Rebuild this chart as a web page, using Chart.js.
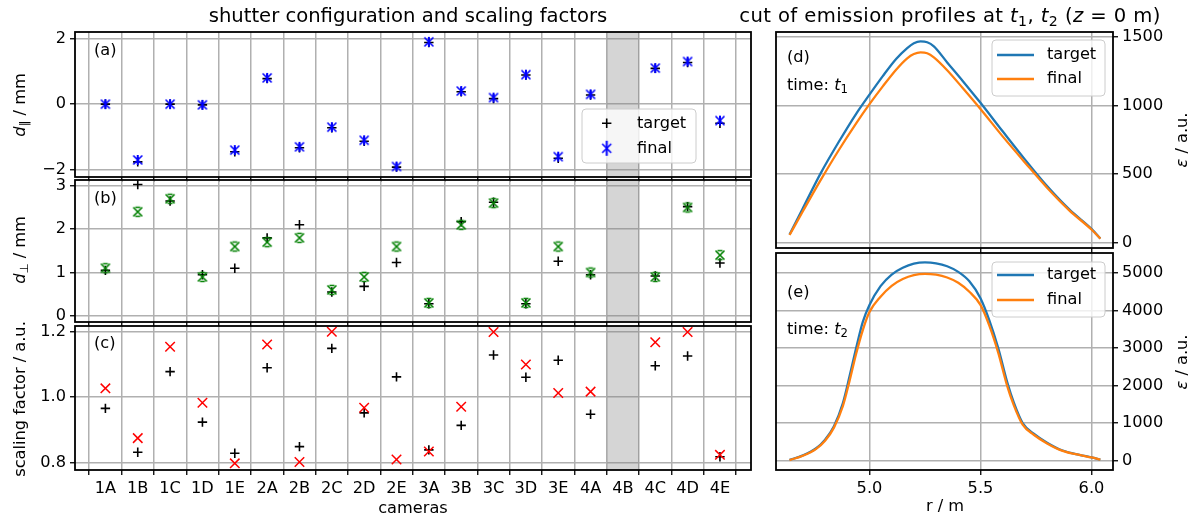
<!DOCTYPE html>
<html>
<head>
<meta charset="utf-8">
<script src="https://cdn.jsdelivr.net/npm/chart.js@4.4.1/dist/chart.umd.min.js"></script>
<style>
  html, body { margin: 0; padding: 0; background: #fff; }
  #wrap { position: relative; width: 1201px; height: 521px; overflow: hidden;
          font-family: 'DejaVu Sans', sans-serif; color: #000; }
  canvas { position: absolute; }
  .t { position: absolute; white-space: nowrap; line-height: 1; font-size: 16.2px; z-index: 5; }
  .c { transform: translate(-50%, -50%); }
  .l { transform: translate(0, -50%); }
  .v { transform: translate(-50%, -50%) rotate(-90deg); }
  .big { font-size: 19.6px; }
  .wide { letter-spacing: 0.4px; }
  sub { font-size: 0.72em; vertical-align: -0.3em; line-height: 0; }
</style>
</head>
<body>
<div id="wrap">
  <canvas id="ca" width="770" height="185" style="left:0;top:12px"></canvas>
  <canvas id="cb" width="770" height="182" style="left:0;top:160px"></canvas>
  <canvas id="cc" width="770" height="215" style="left:0;top:306px"></canvas>
  <canvas id="cd" width="441" height="256" style="left:760px;top:12px"></canvas>
  <canvas id="ce" width="441" height="288" style="left:760px;top:233px"></canvas>

  <div class="t c big" style="left:408px;top:16px">shutter configuration and scaling factors</div>
  <div class="t c big wide" style="left:950px;top:16px">cut of emission profiles at <i>t</i><sub>1</sub>, <i>t</i><sub>2</sub> (<i>z</i> = 0 m)</div>

  <div class="t v" style="left:20px;top:105px"><i>d</i><sub>∥</sub> / mm</div>
  <div class="t v" style="left:20px;top:250px"><i>d</i><sub>⊥</sub> / mm</div>
  <div class="t v" style="left:20px;top:399px">scaling factor / a.u.</div>
  <div class="t v" style="left:1182px;top:140px"><i>ε</i> / a.u.</div>
  <div class="t v" style="left:1182px;top:362px"><i>ε</i> / a.u.</div>
  <div class="t c" style="left:413px;top:508px">cameras</div>
  <div class="t c" style="left:945px;top:506px">r / m</div>

  <div class="t l" style="left:94px;top:50px">(a)</div>
  <div class="t l" style="left:94px;top:198px">(b)</div>
  <div class="t l" style="left:94px;top:343px">(c)</div>
  <div class="t l" style="left:787px;top:57px">(d)</div>
  <div class="t l" style="left:787px;top:85px">time: <i>t</i><sub>1</sub></div>
  <div class="t l" style="left:787px;top:292px">(e)</div>
  <div class="t l" style="left:787px;top:329px">time: <i>t</i><sub>2</sub></div>
</div>
<script>
// cameras and shutter values (4B has no data)
const cameras = ['1A', '1B', '1C', '1D', '1E', '2A', '2B', '2C', '2D', '2E',
                 '3A', '3B', '3C', '3D', '3E', '4A', '4B', '4C', '4D', '4E'];
const skippedCamera = '4B';

const dParTarget = [0.0, -1.76, 0.0, -0.02, -1.45, 0.78, -1.33, -0.72, -1.13, -1.92,
                    1.88, 0.38, 0.17, 0.89, -1.65, 0.28, null, 1.09, 1.27, -0.58];
const dParFinal = [0.0, -1.70, 0.0, -0.02, -1.40, 0.80, -1.30, -0.70, -1.10, -1.90,
                   1.90, 0.40, 0.20, 0.90, -1.60, 0.30, null, 1.10, 1.30, -0.50];

const dPerpTarget = [1.05, 3.03, 2.65, 0.95, 1.10, 1.80, 2.10, 0.55, 0.68, 1.23,
                     0.28, 2.17, 2.62, 0.28, 1.26, 0.95, null, 0.92, 2.52, 1.22];
const dPerpFinal = [1.10, 2.40, 2.70, 0.90, 1.60, 1.70, 1.80, 0.60, 0.90, 1.60,
                    0.30, 2.10, 2.60, 0.30, 1.60, 1.00, null, 0.90, 2.50, 1.40];

const scaleTarget = [0.966, 0.832, 1.078, 0.924, 0.829, 1.090, 0.849, 1.149, 0.952, 1.062,
                     0.839, 0.914, 1.129, 1.061, 1.113, 0.948, null, 1.096, 1.126, 0.818];
const scaleFinal = [1.027, 0.875, 1.154, 0.983, 0.798, 1.161, 0.802, 1.200, 0.968, 0.810,
                    0.834, 0.971, 1.199, 1.100, 1.013, 1.017, null, 1.168, 1.199, 0.824];

// emission profile cuts
const rT1 = [4.64, 4.70, 4.78, 4.86, 4.94, 5.00, 5.06, 5.12, 5.17, 5.20, 5.23,
             5.26, 5.29, 5.35, 5.42, 5.50, 5.60, 5.70, 5.80, 5.90, 6.00, 6.04];
const targetT1 = [58, 250, 505, 730, 940, 1080, 1215, 1340, 1420, 1455, 1468,
                  1462, 1432, 1315, 1180, 1020, 812, 607, 412, 242, 100, 30];
const finalT1 = [55, 228, 455, 670, 870, 1010, 1140, 1262, 1345, 1376, 1388,
                 1382, 1352, 1258, 1128, 975, 775, 585, 400, 235, 95, 28];

const rT2 = [4.64, 4.70, 4.76, 4.80, 4.84, 4.88, 4.91, 4.94, 4.97, 5.00, 5.05,
             5.10, 5.15, 5.20, 5.25, 5.30, 5.35, 5.40, 5.45, 5.50, 5.54, 5.58,
             5.62, 5.65, 5.69, 5.74, 5.80, 5.87, 5.95, 6.00, 6.04];
const targetT2 = [20, 140, 330, 560, 920, 1530, 2240, 3000, 3700, 4150, 4650,
                  4960, 5140, 5250, 5285, 5260, 5180, 5030, 4780, 4330, 3740, 3000,
                  2100, 1550, 1000, 720, 480, 270, 150, 90, 30];
const finalT2 = [15, 130, 315, 530, 880, 1450, 2120, 2850, 3480, 3960, 4370,
                 4660, 4840, 4945, 4978, 4955, 4880, 4740, 4500, 4150, 3600, 2880,
                 2000, 1480, 960, 690, 460, 260, 145, 85, 28];

// tick values
const yTicksA = [-2, 0, 2];
const yTicksB = [0, 1, 2, 3];
const yTicksC = [0.8, 1.0, 1.2];
const yTicksD = [0, 500, 1000, 1500];
const yTicksE = [0, 1000, 2000, 3000, 4000, 5000];
const rTicks = [5.0, 5.5, 6.0];

Chart.defaults.font.family = "'DejaVu Sans', sans-serif";
Chart.defaults.font.size = 16.2;
Chart.defaults.color = '#000';

const GRID = '#b0b0b0';
const NONE = 'rgba(0,0,0,0)';

const idx = cameras.map((c, i) => i);
// boundaries between cameras carry grid lines, centres carry names
const catTicks = idx.flatMap(i => [i - 0.5, i]).concat(idx.length - 0.5);
const pts = (xs, ys) => ys.map((y, i) => ({ x: xs[i], y })).filter(p => p.y !== null);
const fmtMinus = v => (v < 0 ? '\u2212' + (-v) : String(v));

// marker images
function marker(size, draw) {
    const c = document.createElement('canvas');
    c.width = size; c.height = size;
    const g = c.getContext('2d');
    draw(g, size / 2);
    return c;
}
function drawX(g, m, h, color, lw) {
    g.strokeStyle = color; g.lineWidth = lw;
    g.beginPath();
    g.moveTo(m - h, m - h); g.lineTo(m + h, m + h);
    g.moveTo(m - h, m + h); g.lineTo(m + h, m - h);
    g.stroke();
}
const blueMark = (bar) => marker(bar * 2 + 4, (g, m) => {
    drawX(g, m, 4.5, '#0000ff', 1.6);
    g.lineWidth = 2; g.beginPath(); g.moveTo(m, m - bar); g.lineTo(m, m + bar); g.stroke();
});
const greenMark = marker(14, (g, m) => {
    drawX(g, m, 4.5, '#008000', 1.6);
    g.lineWidth = 1.4; g.beginPath();
    g.moveTo(m - 2.5, m - 4.5); g.lineTo(m + 2.5, m - 4.5);
    g.moveTo(m - 2.5, m + 4.5); g.lineTo(m + 2.5, m + 4.5);
    g.stroke();
});
const blueFinal = blueMark(5);
const blueLegend = blueMark(7.5);

// plugins
const framePlugin = {
    id: 'frame',
    afterDatasetsDraw(chart) {
        const { ctx, chartArea: a } = chart;
        ctx.save();
        ctx.strokeStyle = '#000'; ctx.lineWidth = 1.8;
        ctx.strokeRect(a.left, a.top, a.right - a.left, a.bottom - a.top);
        ctx.restore();
    }
};
const bandPlugin = {
    id: 'band',
    beforeDatasetsDraw(chart, args, opts) {
        if (opts.at == null) return;
        const { ctx, chartArea: a } = chart;
        const x = chart.scales.x;
        const x0 = x.getPixelForValue(opts.at - 0.5), x1 = x.getPixelForValue(opts.at + 0.5);
        ctx.save();
        ctx.fillStyle = 'rgba(128,128,128,0.33)';
        ctx.fillRect(x0, a.top, x1 - x0, a.bottom - a.top);
        ctx.restore();
    }
};
const boxLegend = {
    id: 'boxLegend',
    afterDraw(chart, args, o) {
        if (!o.items) return;
        const { ctx, chartArea: a } = chart;
        const x = a.left + o.x, y = a.top + o.y;
        ctx.save();
        ctx.beginPath();
        ctx.roundRect(x, y, o.w, o.h, 4);
        ctx.fillStyle = 'rgba(255,255,255,0.8)'; ctx.fill();
        ctx.strokeStyle = '#cccccc'; ctx.lineWidth = 1; ctx.stroke();
        o.items.forEach((it, k) => {
            const cy = y + o.rows[k];
            if (it.line) {
                ctx.strokeStyle = it.line; ctx.lineWidth = 2.3;
                ctx.beginPath(); ctx.moveTo(x + o.sx[0], cy); ctx.lineTo(x + o.sx[1], cy); ctx.stroke();
            } else if (it.img) {
                ctx.drawImage(it.img, x + o.mx - it.img.width / 2, cy - it.img.height / 2);
            } else {
                ctx.strokeStyle = '#000'; ctx.lineWidth = 1.6;
                ctx.beginPath();
                ctx.moveTo(x + o.mx - 4.7, cy); ctx.lineTo(x + o.mx + 4.7, cy);
                ctx.moveTo(x + o.mx, cy - 4.7); ctx.lineTo(x + o.mx, cy + 4.7);
                ctx.stroke();
            }
            ctx.fillStyle = '#000';
            ctx.font = "16.2px 'DejaVu Sans', sans-serif";
            ctx.textBaseline = 'middle';
            ctx.fillText(it.text, x + o.tx, cy);
        });
        ctx.restore();
    }
};

// scales
const isEdge = c => c.tick && !Number.isInteger(c.tick.value);
function xCat(labels) {
    return {
        type: 'linear', min: -0.94, max: 19.96,
        afterBuildTicks: s => { s.ticks = catTicks.map(v => ({ value: v })); },
        afterFit: s => { s.height = labels ? 51 : 20; },
        ticks: { display: labels, autoSkip: false, maxRotation: 0, padding: 4,
                 callback: v => (Number.isInteger(v) ? cameras[v] : '') },
        grid: { color: c => (isEdge(c) ? GRID : NONE), tickColor: c => (isEdge(c) ? '#000' : NONE),
                lineWidth: 1.5, tickLength: 5, tickWidth: 1.3 },
        border: { display: false }
    };
}
function xR(labels) {
    return {
        type: 'linear', min: 4.579, max: 6.097,
        afterBuildTicks: s => { s.ticks = rTicks.map(v => ({ value: v })); },
        afterFit: s => { s.height = labels ? 51 : 20; },
        ticks: { display: labels, maxRotation: 0, padding: 4, callback: v => v.toFixed(1) },
        grid: { color: GRID, tickColor: '#000', lineWidth: 1.5, tickLength: 5, tickWidth: 1.3 },
        border: { display: false }
    };
}
function yLin(min, max, ticks, fmt, position, width) {
    return {
        type: 'linear', position, min, max,
        afterBuildTicks: s => { s.ticks = ticks.map(v => ({ value: v })); },
        afterFit: s => { s.width = width; },
        ticks: { padding: 4, callback: fmt },
        grid: { color: GRID, tickColor: '#000', lineWidth: 1.5, tickLength: 5, tickWidth: 1.3 },
        border: { display: false }
    };
}

const base = {
    responsive: false, animation: false, events: [],
};
const leftPad = { top: 20, right: 19, left: 0, bottom: 0 };
const rightPad = { top: 20, right: 0, left: 16, bottom: 0 };
const bandAt = cameras.indexOf(skippedCamera);

const target = (data) => ({ label: 'target', data, pointStyle: 'cross', pointRadius: 4.7,
                            borderColor: '#000', borderWidth: 1.6, order: 1 });

new Chart(document.getElementById('ca'), {
    type: 'scatter',
    data: { datasets: [
        target(pts(idx, dParTarget)),
        { label: 'final', data: pts(idx, dParFinal), pointStyle: blueFinal, pointRadius: 5, order: 0 }
    ] },
    options: { ...base, layout: { padding: leftPad },
        scales: { x: xCat(false), y: yLin(-2.22, 2.2, yTicksA, fmtMinus, 'left', 75) },
        plugins: { legend: { display: false }, tooltip: { enabled: false }, band: { at: bandAt },
            boxLegend: { x: 507, y: 77, w: 114, h: 54, mx: 24.7, tx: 55, rows: [14.3, 39.3],
                items: [{ text: 'target' }, { text: 'final', img: blueLegend }] } } },
    plugins: [bandPlugin, framePlugin, boxLegend]
});

new Chart(document.getElementById('cb'), {
    type: 'scatter',
    data: { datasets: [
        target(pts(idx, dPerpTarget)),
        { label: 'final', data: pts(idx, dPerpFinal), pointStyle: greenMark, pointRadius: 5, order: 0 }
    ] },
    options: { ...base, layout: { padding: leftPad },
        scales: { x: xCat(false), y: yLin(-0.14, 3.133, yTicksB, String, 'left', 75) },
        plugins: { legend: { display: false }, tooltip: { enabled: false }, band: { at: bandAt } } },
    plugins: [bandPlugin, framePlugin]
});

new Chart(document.getElementById('cc'), {
    type: 'scatter',
    data: { datasets: [
        target(pts(idx, scaleTarget)),
        { label: 'final', data: pts(idx, scaleFinal), pointStyle: 'crossRot', pointRadius: 6.7,
          borderColor: '#ff0000', borderWidth: 1.5, order: 0 }
    ] },
    options: { ...base, layout: { padding: leftPad },
        scales: { x: xCat(true), y: yLin(0.7777, 1.2174, yTicksC, v => v.toFixed(1), 'left', 75) },
        plugins: { legend: { display: false }, tooltip: { enabled: false }, band: { at: bandAt } } },
    plugins: [bandPlugin, framePlugin]
});

const lineSet = (label, xs, ys, color) => ({
    label, data: pts(xs, ys), showLine: true, pointRadius: 0, borderColor: color,
    borderWidth: 2.3, cubicInterpolationMode: 'monotone'
});

new Chart(document.getElementById('cd'), {
    type: 'scatter',
    data: { datasets: [
        { ...lineSet('target', rT1, targetT1, '#1f77b4'), order: 1 },
        { ...lineSet('final', rT1, finalT1, '#ff7f0e'), order: 0 }
    ] },
    options: { ...base, layout: { padding: rightPad },
        scales: { x: xR(false), y: yLin(-40, 1537, yTicksD, String, 'right', 88) },
        plugins: { legend: { display: false }, tooltip: { enabled: false },
            boxLegend: { x: 216, y: 8, w: 113, h: 56, sx: [5, 42], tx: 55, rows: [15, 39],
                items: [{ text: 'target', line: '#1f77b4' }, { text: 'final', line: '#ff7f0e' }] } } },
    plugins: [framePlugin, boxLegend]
});

new Chart(document.getElementById('ce'), {
    type: 'scatter',
    data: { datasets: [
        { ...lineSet('target', rT2, targetT2, '#1f77b4'), order: 1 },
        { ...lineSet('final', rT2, finalT2, '#ff7f0e'), order: 0 }
    ] },
    options: { ...base, layout: { padding: rightPad },
        scales: { x: xR(true), y: yLin(-249, 5534, yTicksE, String, 'right', 88) },
        plugins: { legend: { display: false }, tooltip: { enabled: false },
            boxLegend: { x: 216, y: 9, w: 113, h: 55, sx: [5, 42], tx: 55, rows: [13, 38],
                items: [{ text: 'target', line: '#1f77b4' }, { text: 'final', line: '#ff7f0e' }] } } },
    plugins: [framePlugin, boxLegend]
});
</script>
</body>
</html>
